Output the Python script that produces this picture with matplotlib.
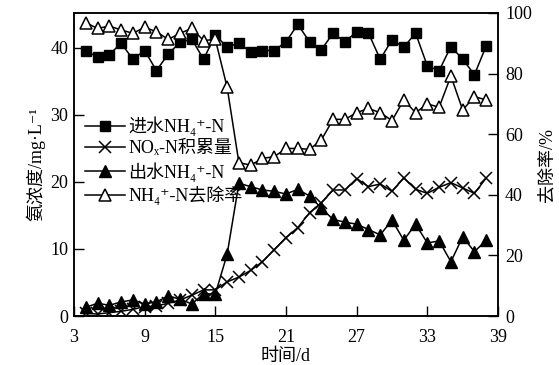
import matplotlib
matplotlib.use("Agg")
import matplotlib.pyplot as plt

# Day axis and series
days = list(range(4, 39))

# Influent NH4+-N (mg/L), filled squares, left axis
influent_nh4 = [39.6, 38.6, 39.0, 40.7, 38.3, 39.6, 36.6, 39.1, 40.8, 41.3,
                38.3, 41.9, 40.1, 40.7, 39.4, 39.6, 39.6, 40.9, 43.5, 40.9,
                39.7, 42.2, 40.9, 42.4, 42.2, 38.3, 41.2, 40.1, 42.2, 37.3,
                36.6, 40.2, 38.3, 36.0, 40.3]

# NOx-N accumulation (mg/L), crosses, left axis
nox_accum = [0.4, 0.3, 0.5, 0.7, 1.0, 1.4, 1.5, 1.9, 2.4, 3.1,
             3.9, 3.9, 5.1, 5.8, 6.8, 8.1, 9.9, 11.7, 13.2, 15.4,
             16.9, 18.8, 18.8, 20.5, 19.3, 19.7, 18.6, 20.6, 18.9, 18.3,
             19.2, 19.9, 19.1, 18.3, 20.6]

# Effluent NH4+-N (mg/L), filled triangles, left axis
effluent_nh4 = [1.3, 1.9, 1.6, 2.1, 2.4, 1.8, 2.1, 3.0, 2.5, 1.8,
                3.3, 3.3, 9.2, 19.8, 19.3, 18.8, 18.6, 18.2, 18.9, 17.9,
                16.1, 14.4, 14.0, 13.7, 12.9, 12.1, 14.3, 11.3, 13.7, 10.9,
                11.2, 8.1, 11.8, 9.6, 11.3]

# NH4+-N removal rate (%), open triangles, right axis
removal_rate = [96.8, 94.9, 95.7, 94.4, 93.3, 95.3, 93.8, 91.3, 93.3, 94.9,
                90.9, 91.3, 75.5, 50.6, 49.8, 52.0, 52.6, 55.3, 55.3, 55.0,
                58.1, 64.9, 64.9, 67.1, 68.5, 67.1, 64.5, 71.3, 67.1, 70.0,
                68.9, 79.2, 68.0, 72.4, 71.3]

labels = ["进水NH₄⁺-N", "NOₓ-N积累量", "出水NH₄⁺-N", "NH₄⁺-N去除率"]
x_ticks = [3, 9, 15, 21, 27, 33, 39]
left_ticks = [0, 10, 20, 30, 40]
right_ticks = [0, 20, 40, 60, 80, 100]

FONT = ["Liberation Serif", "DejaVu Serif", "Noto Sans CJK SC"]
plt.rcParams["font.family"] = FONT
plt.rcParams["font.size"] = 13

fig = plt.figure(figsize=(5.59, 3.65), dpi=100)
ax = fig.add_axes([0.1324, 0.1342, 0.7585, 0.8302])
ax2 = ax.twinx()

h1, = ax.plot(days, influent_nh4, "k-", marker="s", ms=7, lw=1.1)
h2, = ax.plot(days, nox_accum, "k-", marker="x", ms=8, mew=1.1, lw=1.1)
h3, = ax.plot(days, effluent_nh4, "k-", marker="^", ms=8, lw=1.1)
h4, = ax2.plot(days, removal_rate, "k-", marker="^", ms=8, mfc="white",
               mec="black", mew=1.1, lw=1.1)

ax.set_xlim(3, 39)
ax.set_ylim(0, 45.2)
ax2.set_ylim(0, 100)
ax.set_xticks(x_ticks)
ax.set_yticks(left_ticks)
ax2.set_yticks(right_ticks)

ax.tick_params(direction="in", length=7, width=1, labelsize=13, pad=4)
ax.tick_params(axis="x", pad=9)
ax2.tick_params(direction="in", length=7, width=1, labelsize=13, pad=5)
for a in (ax, ax2):
    for sp in a.spines.values():
        sp.set_linewidth(1.1)

ax.set_xlabel("时间/d", fontsize=13, labelpad=2)
ax.set_ylabel("氨浓度/mg·L⁻¹", fontsize=13, labelpad=4)
ax2.set_ylabel("去除率/%", fontsize=13, labelpad=5)

ax2.legend([h1, h2, h3, h4], labels, loc="upper left",
           bbox_to_anchor=(0.0, 0.695), frameon=False, borderaxespad=0.2,
           handlelength=2.2, handletextpad=0.2, labelspacing=0.25,
           fontsize=13)

fig.savefig("out.png", dpi=100)
